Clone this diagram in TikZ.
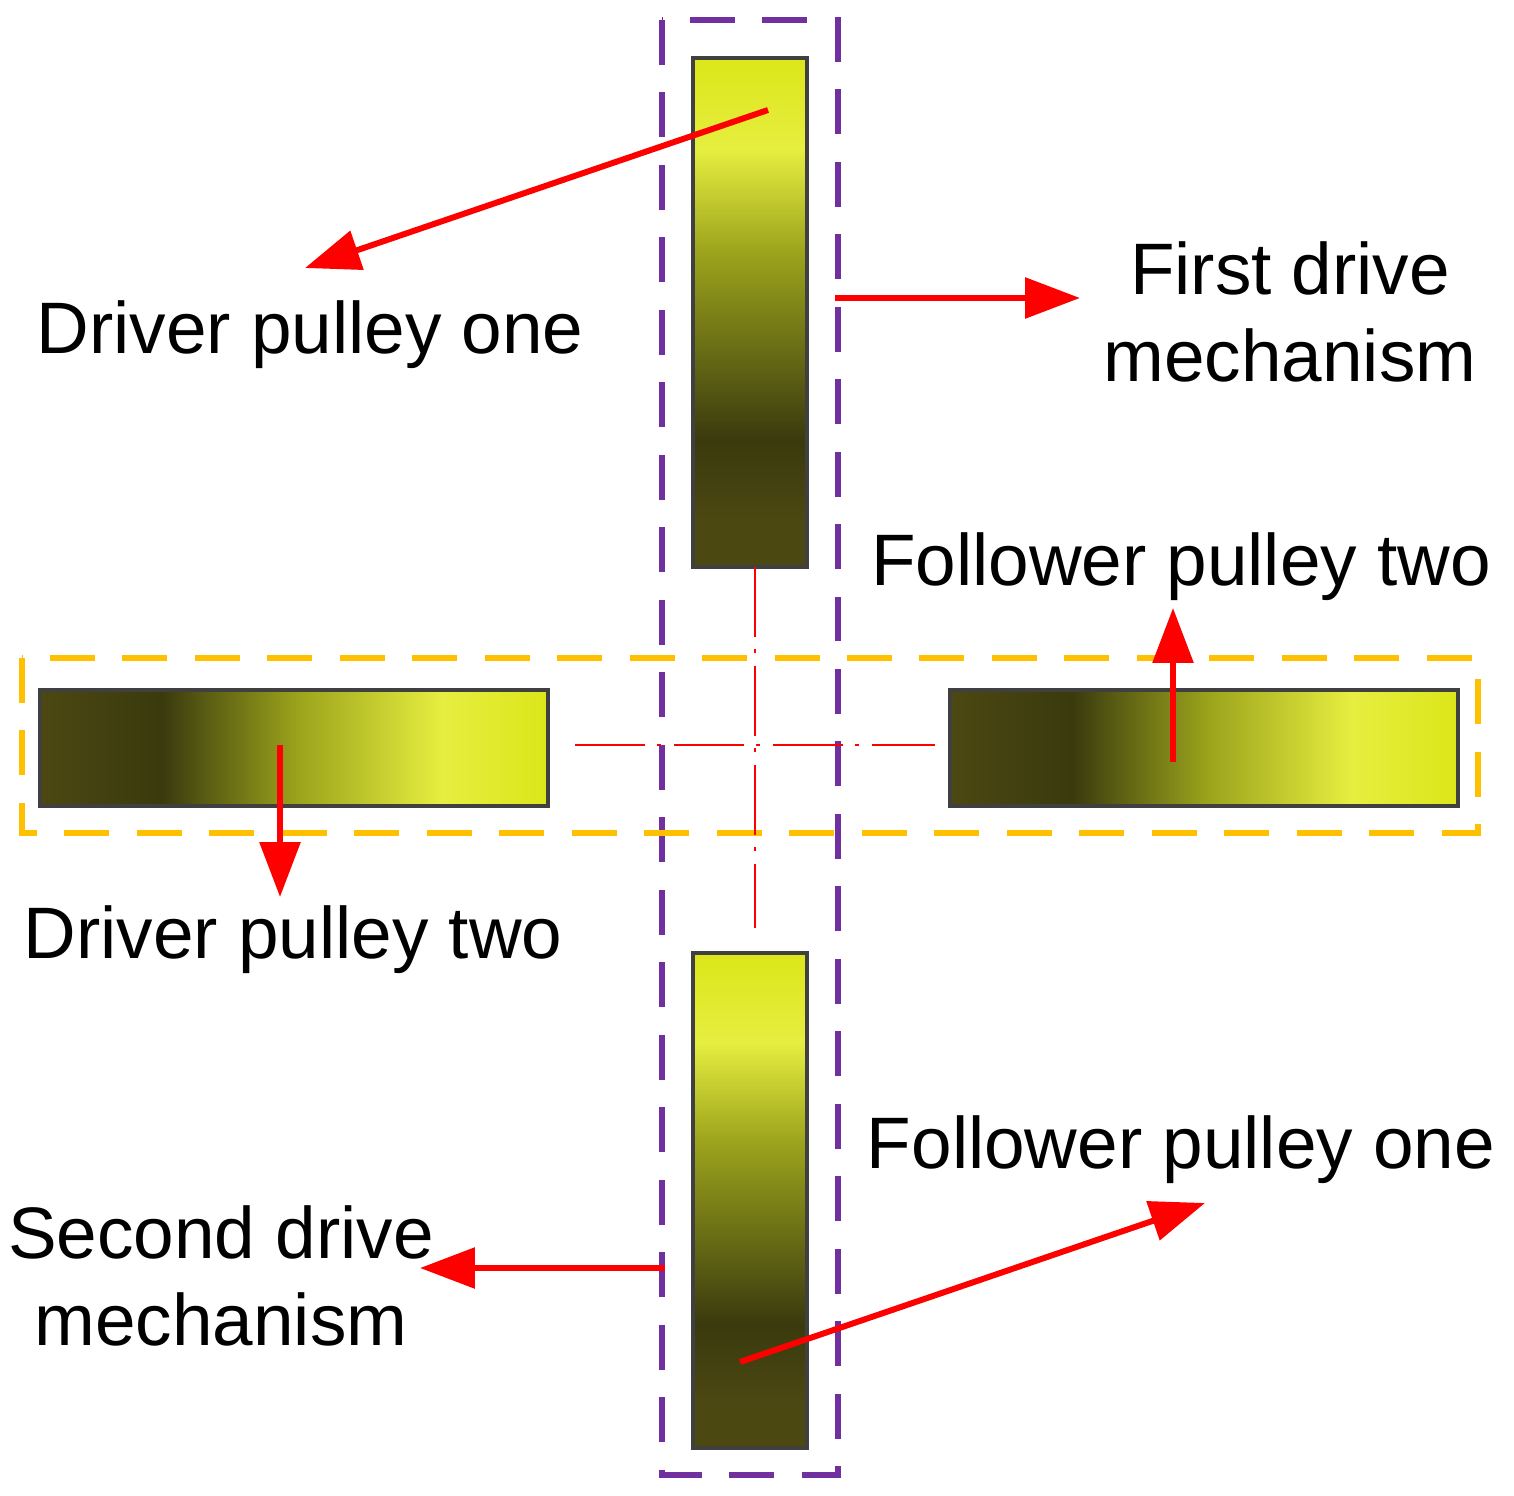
\documentclass[tikz,border=0pt]{standalone}
\usepackage{fontspec}
\setmainfont{Liberation Sans}
\usetikzlibrary{arrows.meta}

\definecolor{pdark}{HTML}{3A3A0E}
\definecolor{pmid}{HTML}{4C4812}
\definecolor{polive}{HTML}{9CA41C}
\definecolor{plight}{HTML}{E6EE40}
\definecolor{pbright}{HTML}{DCE618}
\definecolor{boxpurple}{HTML}{7030A0}
\definecolor{boxorange}{HTML}{FFC000}

\pgfdeclareverticalshading{pulleyV}{100bp}{color(0bp)=(pmid); color(25bp)=(pmid);
  color(29.5bp)=(pmid); color(37.5bp)=(pdark); color(56bp)=(polive);
  color(66bp)=(plight); color(75bp)=(pbright); color(100bp)=(pbright)}
\pgfdeclarehorizontalshading{pulleyH}{100bp}{color(0bp)=(pmid); color(25bp)=(pmid);
  color(37bp)=(pdark); color(50.5bp)=(polive); color(64.5bp)=(plight);
  color(75bp)=(pbright); color(100bp)=(pbright)}

\tikzset{
  pulley/.style={draw=black!75, line width=2pt},
  frame/.style={line width=3pt, dash pattern=on 0.9cm off 0.55cm},
  centre/.style={red, line width=1.4pt, dash pattern=on 1.4cm off 0.25cm on 0.08cm off 0.25cm},
  pointer/.style={red, line width=3.4pt, -{Triangle[length=1.1cm,width=0.8cm]}},
  label/.style={font=\fontsize{41.5}{50}\selectfont, align=center, inner sep=0pt}
}

\begin{document}
\begin{tikzpicture}[x=0.02cm,y=-0.02cm]
     \useasboundingbox (0,0) rectangle (1514,1496);
     % pulleys
     \shade[pulley, shading=pulleyV] (693,58) rectangle (807,567);
     \shade[pulley, shading=pulleyV] (693,953) rectangle (807,1448);
     \shade[pulley, shading=pulleyH] (40,690) rectangle (548,806);
     \shade[pulley, shading=pulleyH] (950,690) rectangle (1458,806);

     % mechanism frames
     \draw[frame, boxpurple] (662,20) rectangle (838,1475);
     \draw[frame, boxorange] (22,658) rectangle (1478,833);

     % centre lines
     \coordinate (vtop) at (755,567);
     \coordinate (vbot) at (755,928);
     \coordinate (hleft) at (575,745);
     \coordinate (hright) at (935,745);
     \draw[centre] (vtop) -- (vbot);
     \draw[centre] (hleft) -- (hright);

     % labels
     \node[label] (dp1) at (310,335) {Driver pulley one};
     \node[label] (fdm) at (1290,312) {First drive\\mechanism};
     \node[label] (fp2) at (1181,567) {Follower pulley two};
     \node[label] (dp2) at (293,940) {Driver pulley two};
     \node[label] (sdm) at (221,1276) {Second drive\\mechanism};
     \node[label] (fp1) at (1181,1150) {Follower pulley one};

     % pointers
     \coordinate (s1) at (768,110);   \coordinate (e1) at (305,268);
     \coordinate (s2) at (835,298);   \coordinate (e2) at (1080,298);
     \coordinate (s3) at (1173,762);  \coordinate (e3) at (1173,608);
     \coordinate (s4) at (280,745);   \coordinate (e4) at (280,897);
     \coordinate (s5) at (665,1268);  \coordinate (e5) at (420,1268);
     \coordinate (s6) at (740,1362);  \coordinate (e6) at (1205,1203);
     \foreach \i in {1,...,6}
       \draw[pointer] (s\i) -- (e\i);
\end{tikzpicture}
\end{document}
